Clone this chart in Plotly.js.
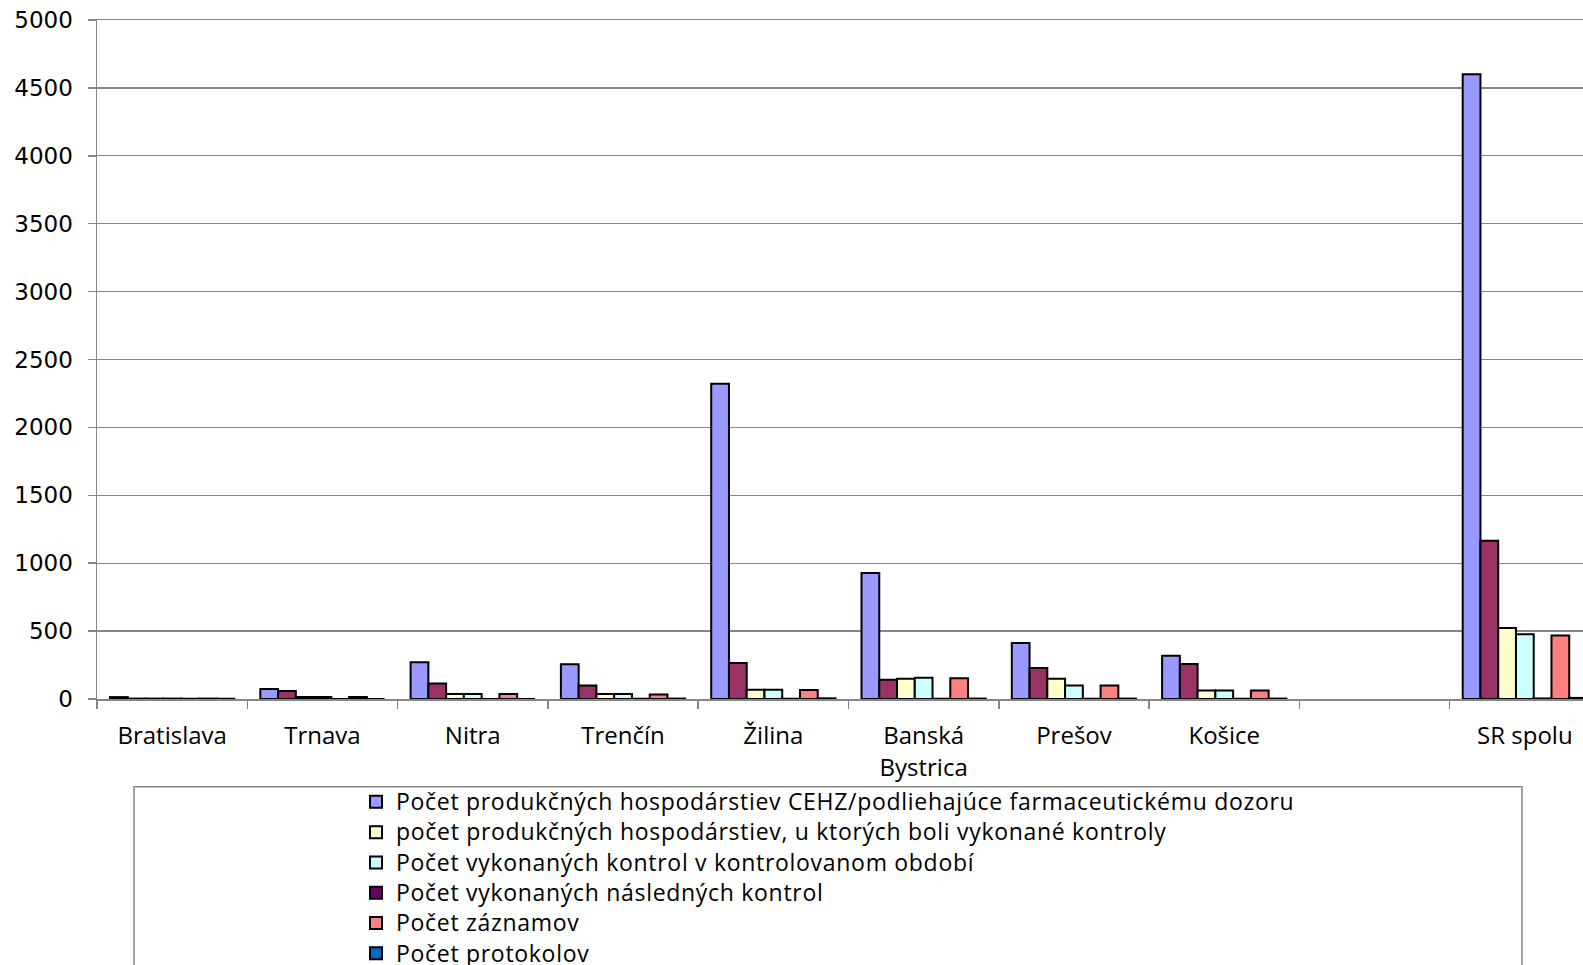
<!DOCTYPE html>
<html>
<head>
<meta charset="utf-8">
<script src="https://cdn.plot.ly/plotly-3.0.1.min.js"></script>
<style>
html,body{margin:0;padding:0;background:#fff;}
#chart{width:1583px;height:965px;}
#chart .legendtext{font-size:23px !important;letter-spacing:0.7px;}
#chart .legend, #chart .legend .scrollbox, #chart .legend g{clip-path:none !important;}
</style>
</head>
<body>
<div id="chart"></div>
<script>
const categories = ['Bratislava', 'Trnava', 'Nitra', 'Trenčín', 'Žilina', 'Banská<br>Bystrica', 'Prešov', 'Košice', '\u00a0', 'SR spolu'];

const names = [
  'Počet produkčných hospodárstiev CEHZ/podliehajúce farmaceutickému dozoru',
  'Počet zistených nedostatkov',
  'počet produkčných hospodárstiev, u ktorých boli vykonané kontroly',
  'Počet vykonaných kontrol v kontrolovanom období',
  'Počet vykonaných následných kontrol',
  'Počet záznamov',
  'Počet protokolov'
];

const cehz        = [14, 74, 270, 255, 2322, 928, 412, 319, null, 4600];
const nedostatky  = [3, 59, 115, 100, 265, 142, 228, 258, null, 1165];
const hospodarst  = [3, 15, 37, 37, 68, 150, 150, 63, null, 523];
const kontroly    = [3, 15, 37, 37, 68, 157, 100, 63, null, 477];
const nasledne    = [2, 0, 0, 2, 2, 2, 2, 2, null, 4];
const zaznamy     = [3, 15, 37, 34, 66, 152, 100, 63, null, 468];
const protokoly   = [2, 0, 0, 3, 5, 3, 3, 3, null, 8];

const seriesValues = [cehz, nedostatky, hospodarst, kontroly, nasledne, zaznamy, protokoly];
const colors = ['#9999FF', '#993366', '#FFFFCC', '#CCFFFF', '#660066', '#FF8080', '#0066CC'];
const ranks = [1, 7, 2, 3, 4, 5, 6];
const inLegend = [true, false, true, true, true, true, true];

const traces = seriesValues.map((vals, i) => ({
  type: 'bar',
  x: categories,
  y: vals,
  name: names[i],
  legendrank: ranks[i],
  showlegend: inLegend[i],
  marker: {color: colors[i], line: {color: '#000000', width: 2}},
  hoverinfo: 'x+y+name'
}));

const W = 1583, H = 965;
const mL = 97, mR = 0, mT = 20.3, mB = H - 699.3;
const plotW = W - mL - mR, plotH = H - mT - mB;
const catW = 150.3;
const toPX = px => (px - mL) / plotW;
const toPY = py => (H - mB - py) / plotH;

const layout = {
  width: W, height: H,
  margin: {l: mL, r: mR, t: mT, b: mB, autoexpand: false},
  paper_bgcolor: '#ffffff',
  plot_bgcolor: '#ffffff',
  barmode: 'group',
  bargap: 0.173,
  bargroupgap: 0,
  font: {family: 'Open Sans, Noto Sans, sans-serif', color: '#000000', size: 22},
  xaxis: {
    type: 'category',
    range: [-0.5, -0.5 + plotW / catW],
    showgrid: false,
    showline: true,
    mirror: true,
    linecolor: '#868686',
    linewidth: 1.5,
    ticks: 'outside',
    tickson: 'boundaries',
    ticklen: 8,
    tickcolor: '#868686',
    tickwidth: 1.5,
    ticklabelstandoff: 15,
    tickfont: {family: 'Open Sans, Noto Sans, sans-serif', size: 24, color: '#000000'},
    zeroline: false,
    fixedrange: true
  },
  yaxis: {
    range: [0, 5000],
    dtick: 500,
    tick0: 0,
    showgrid: true,
    gridcolor: '#868686',
    gridwidth: 1.3,
    showline: true,
    linecolor: '#868686',
    linewidth: 1.5,
    ticks: 'outside',
    ticklen: 8,
    tickcolor: '#868686',
    tickwidth: 1.5,
    ticklabelstandoff: 10,
    tickfont: {family: 'DejaVu Sans, sans-serif', size: 23, color: '#000000'},
    zeroline: false,
    fixedrange: true
  },
  showlegend: true,
  legend: {
    x: toPX(356), xanchor: 'left',
    y: toPY(782), yanchor: 'top',
    bgcolor: 'rgba(0,0,0,0)',
    borderwidth: 0,
    traceorder: 'normal',
    font: {family: 'Open Sans, Noto Sans, sans-serif', size: 21, color: '#000000'},
    tracegroupgap: 0
  },
  shapes: [{
    type: 'rect', xref: 'paper', yref: 'paper',
    x0: toPX(134), x1: toPX(1522), y0: toPY(1000), y1: toPY(787),
    line: {color: '#868686', width: 1.5}, fillcolor: 'rgba(0,0,0,0)', layer: 'below'
  }]
};

Plotly.newPlot('chart', traces, layout, {displayModeBar: false, staticPlot: true});
</script>
</body>
</html>
